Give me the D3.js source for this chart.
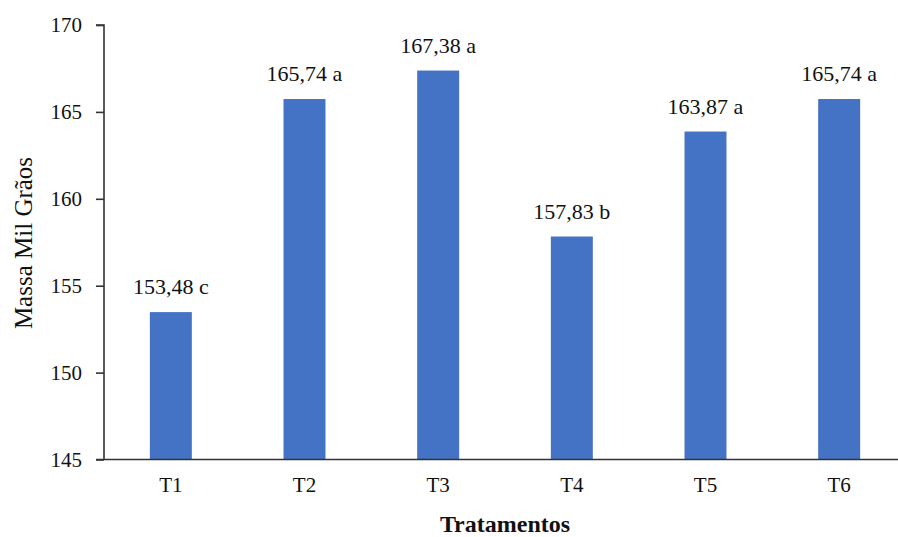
<!DOCTYPE html>
<html>
<head>
<meta charset="utf-8">
<script src="https://cdn.jsdelivr.net/npm/d3@7"></script>
<style>
  html, body { margin: 0; padding: 0; background: #fff; }
  svg { display: block; font-family: "Liberation Serif", "Times New Roman", serif; }
</style>
</head>
<body>
<svg id="chart" width="898" height="537"></svg>
<script>
// Treatments and thousand-grain mass with significance letters
const categories = ["T1", "T2", "T3", "T4", "T5", "T6"];
const values = [153.48, 165.74, 167.38, 157.83, 163.87, 165.74];
const letters = ["c", "a", "a", "b", "a", "a"];
const yTicks = [145, 150, 155, 160, 165, 170];

const svg = d3.select("#chart");
const plotLeft = 104, plotRight = 906, plotTop = 25, plotBottom = 459.5;

const x = d3.scaleBand().domain(categories).range([plotLeft, plotRight]).paddingInner(0.686).paddingOuter(0.343);
const y = d3.scaleLinear().domain([145, 170]).range([plotBottom, plotTop]);

const fmt = v => d3.format(".2f")(v).replace(".", ",");

// Bars
svg.append("g").selectAll("rect").data(values).join("rect")
  .attr("x", (d, i) => x(categories[i]))
  .attr("y", d => y(d))
  .attr("width", x.bandwidth())
  .attr("height", d => y(145) - y(d))
  .attr("fill", "#4472C4");

// Value labels
svg.append("g").selectAll("text").data(values).join("text")
  .attr("x", (d, i) => x(categories[i]) + x.bandwidth() / 2)
  .attr("y", d => y(d) - 18)
  .attr("text-anchor", "middle")
  .attr("font-size", 22)
  .attr("fill", "#111")
  .text((d, i) => `${fmt(d)} ${letters[i]}`);

// Y axis
const yAxis = svg.append("g").attr("transform", `translate(${plotLeft},0)`)
  .call(d3.axisLeft(y).tickValues(yTicks).tickSize(8).tickPadding(14).tickFormat(d3.format("d")));
yAxis.selectAll("text").attr("font-size", 21).attr("fill", "#111").attr("font-family", "Liberation Serif");
yAxis.selectAll("line, path").attr("stroke", "#333").attr("stroke-width", 1.6);
yAxis.select(".domain").attr("d", `M-8,${plotTop}H0V${plotBottom}`);

// X axis
const xAxis = svg.append("g").attr("transform", `translate(0,${plotBottom})`)
  .call(d3.axisBottom(x).tickSize(0).tickPadding(18));
xAxis.selectAll("text").attr("font-size", 21).attr("fill", "#111").attr("font-family", "Liberation Serif");
xAxis.select(".domain").attr("stroke", "#333").attr("stroke-width", 1.6)
  .attr("d", `M${plotLeft - 8},0H${plotRight}`);

// Axis titles
svg.append("text")
  .attr("x", (plotLeft + plotRight) / 2).attr("y", 532)
  .attr("text-anchor", "middle").attr("font-size", 24).attr("font-weight", "bold").attr("fill", "#111")
  .text("Tratamentos");

svg.append("text")
  .attr("transform", `translate(32,243) rotate(-90)`)
  .attr("text-anchor", "middle").attr("font-size", 25).attr("fill", "#111")
  .text("Massa Mil Grãos");
</script>
</body>
</html>
